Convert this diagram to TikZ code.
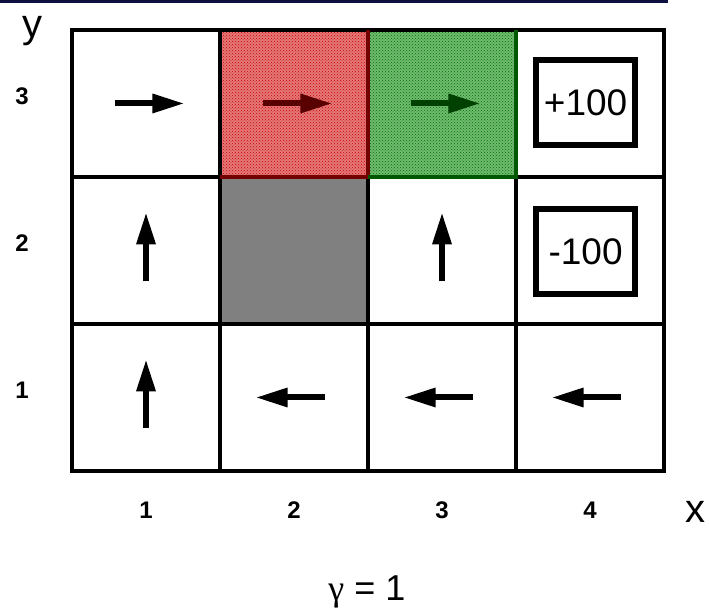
\documentclass[tikz,border=0pt]{standalone}
\usepackage{fontspec}
\setmainfont{Liberation Sans}
\newfontfamily\greekfont{Liberation Serif}
\usetikzlibrary{arrows.meta,calc,patterns}
\definecolor{headline}{RGB}{16,16,64}
\definecolor{costred}{RGB}{228,120,120}
\definecolor{costgreen}{RGB}{112,186,112}

\begin{document}
\begin{tikzpicture}[x=148pt, y=147pt, >={Triangle[length=32pt,width=18pt]},
    gridline/.style={line width=4pt},
    policy/.style={->, line width=6pt},
    reward/.style={draw, line width=6pt, minimum width=99pt, minimum height=85pt,
                   inner sep=0pt, font=\fontsize{37}{40}\selectfont},
    axislabel/.style={font=\fontsize{40}{44}\selectfont},
    coordlabel/.style={font=\bfseries\fontsize{24}{28}\selectfont}]
    \useasboundingbox (-0.4865,-0.966) rectangle (4.304,3.204);

    % Rule at the top
    \draw[headline, line width=3pt] (-0.4865,3.194) -- (4.027,3.194);

    % Shaded cells
    \fill[costred] (1,2) rectangle (2,3);
    \pattern[pattern=crosshatch dots, pattern color=red!80!black] (1,2) rectangle (2,3);
    \fill[costgreen] (2,2) rectangle (3,3);
    \pattern[pattern=crosshatch dots, pattern color=green!45!black] (2,2) rectangle (3,3);
    \fill[gray] (1,1) rectangle (2,2);

    % Grid
    \foreach \c in {1,2,3}
        \draw[gridline] (\c,0) -- (\c,3);
    \foreach \r in {1,2}
        \draw[gridline] (0,\r) -- (4,\r);
    \draw[gridline] (0,0) rectangle (4,3);
    \draw[gridline, red!45!black] (1,2) -- (2,2) -- (2,3);
    \draw[gridline, green!35!black] (2,2) -- (3,2) -- (3,3);

    % Policy arrows
    \foreach \i/\j/\dx/\dy/\col in {1/3/1/0/black, 2/3/1/0/red!35!black, 3/3/1/0/green!25!black,
                                   1/2/0/1/black, 3/2/0/1/black, 1/1/0/1/black,
                                   2/1/-1/0/black, 3/1/-1/0/black, 4/1/-1/0/black}
        \draw[policy, \col] ($(\i-0.5,\j-0.5)-(0.21*\dx,0.21*\dy)$) -- ++(0.47*\dx,0.47*\dy);

    % Terminal rewards
    \node[reward] (plus) at (3.47,2.507) {+100};
    \node[reward] (minus) at (3.47,1.49) {-100};

    % Axes
    \node[axislabel] (ylab) at (-0.264,2.99) {y};
    \node[axislabel] (xlab) at (4.21,-0.279) {x};
    \foreach \r in {1,2,3}
        \node[coordlabel] (row\r) at (-0.338,\r-0.45) {\r};
    \foreach \c in {1,...,4}
        \node[coordlabel] (col\c) at (\c-0.5,-0.265) {\c};

    \node[axislabel, font=\fontsize{36}{40}\selectfont] (gamma) at (1.993,-0.82) {{\greekfont γ} = 1};
\end{tikzpicture}
\end{document}
